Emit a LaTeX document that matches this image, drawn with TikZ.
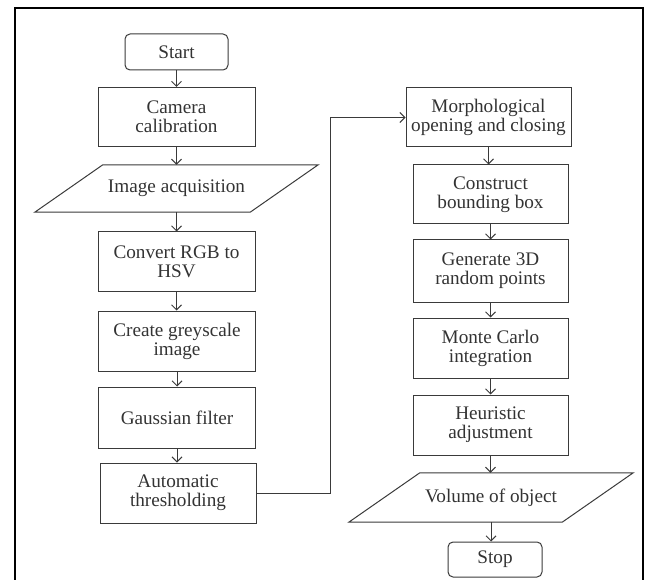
\documentclass[tikz,border=0pt]{standalone}
\usepackage{fontspec}
\setmainfont{Liberation Serif}
\usetikzlibrary{arrows.meta,calc}
\definecolor{ink}{HTML}{333333}
\definecolor{edge}{HTML}{3A3A3A}
\tikzset{
  stepbox/.style={draw=edge, line width=1pt, rectangle, align=center, text=ink,
    font=\fontsize{19.2}{19}\selectfont, inner sep=0pt},
  termbox/.style={stepbox, rounded corners=5pt},
  iobox/.style={draw=none, align=center, text=ink, font=\fontsize{19.2}{19}\selectfont, inner sep=0pt},
  conn/.style={draw=edge, line width=1pt, -{Straight Barb[length=5pt,width=10pt]}},
  frameline/.style={draw=black, line width=2.2pt}
}
\begin{document}
\begin{tikzpicture}[x=1pt,y=-1pt]
\useasboundingbox (0,0) rectangle (648,580);
\draw[frameline] (15,581) -- (15,8) -- (643,8) -- (643,581);

% left column
\node[termbox, minimum width=103pt, minimum height=36pt] (start) at (176.5,52) {Start};
\node[stepbox, minimum width=157pt, minimum height=59pt] (cam) at (176.5,117) {Camera\\calibration};
\node[iobox, minimum width=147pt, minimum height=47pt] (ia) at (176.5,188.5) {Image acquisition};
\draw[draw=edge, line width=1pt] (ia.north west) -- ([xshift=68pt]ia.north east) -- (ia.south east) -- ([xshift=-68pt]ia.south west) -- cycle;
\node[stepbox, minimum width=157pt, minimum height=59pt] (rgb) at (176.5,261.5) {Convert RGB to\\HSV};
\node[stepbox, minimum width=157pt, minimum height=60pt] (grey) at (177,341) {Create greyscale\\image};
\node[stepbox, minimum width=157pt, minimum height=61pt] (gauss) at (177,417.5) {Gaussian filter};
\node[stepbox, minimum width=156pt, minimum height=60pt] (thr) at (178,493) {Automatic\\thresholding};

% right column
\node[stepbox, minimum width=165pt, minimum height=59pt] (morph) at (488.5,117.5) {Morphological\\opening and closing};
\node[stepbox, minimum width=155pt, minimum height=59pt] (bbox) at (490.5,194.5) {Construct\\bounding box};
\node[stepbox, minimum width=155pt, minimum height=62pt] (gen) at (490.5,271) {Generate 3D\\random points};
\node[stepbox, minimum width=155pt, minimum height=60pt] (mc) at (490.5,348) {Monte Carlo\\integration};
\node[stepbox, minimum width=155pt, minimum height=60pt] (heur) at (490.5,425) {Heuristic\\adjustment};
\node[iobox, minimum width=142pt, minimum height=49pt] (vol) at (491,497.5) {Volume of object};
\draw[draw=edge, line width=1pt] (vol.north west) -- ([xshift=71pt]vol.north east) -- (vol.south east) -- ([xshift=-71pt]vol.south west) -- cycle;
\node[termbox, minimum width=94pt, minimum height=35pt] (stop) at (495,559.5) {Stop};

% connectors
\draw[conn] (start.south) -- (start.south |- cam.north);
\draw[conn] (cam.south) -- (cam.south |- ia.north);
\draw[conn] (ia.south) -- (ia.south |- rgb.north);
\draw[conn] (rgb.south) -- (rgb.south |- grey.north);
\draw[conn] (grey.south) -- (grey.south |- gauss.north);
\draw[conn] (gauss.south) -- (gauss.south |- thr.north);
\draw[conn] (thr.east) -- ++(74,0) |- (morph.west);
\draw[conn] (morph.south) -- (morph.south |- bbox.north);
\draw[conn] (bbox.south) -- (bbox.south |- gen.north);
\draw[conn] (gen.south) -- (gen.south |- mc.north);
\draw[conn] (mc.south) -- (mc.south |- heur.north);
\draw[conn] (heur.south) -- (heur.south |- vol.north);
\draw[conn] (vol.south) -- (vol.south |- stop.north);
\end{tikzpicture}
\end{document}
